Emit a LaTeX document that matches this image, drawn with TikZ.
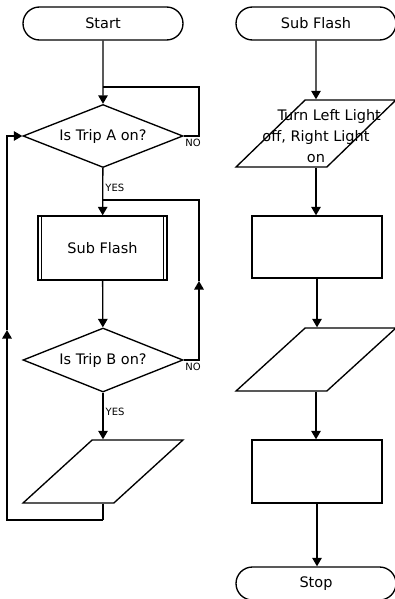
\documentclass[tikz,border=0pt]{standalone}
\usepackage{fontspec}
\setmainfont{DejaVu Sans}
\usetikzlibrary{positioning,shapes,arrows.meta,calc}

\tikzset{
    term/.style={rounded rectangle, draw, minimum width=160pt, minimum height=33pt, inner sep=0pt},
    decide/.style={diamond, draw, aspect=2.5, minimum width=160pt, minimum height=63pt, inner sep=0pt},
    io/.style={trapezium, trapezium left angle=63, trapezium right angle=117, trapezium stretches=true,
        draw, minimum width=160pt, minimum height=63pt, inner sep=2pt, align=center},
    proc/.style={rectangle, draw, minimum width=130pt, minimum height=63pt},
    flow/.style={-{Triangle[width=9.5pt,length=8.5pt]}},
    tag/.style={font=\fontsize{10}{12}\selectfont, inner sep=1pt},
}

\begin{document}
\begin{tikzpicture}[x=1pt, y=-1pt, line width=1.35pt, draw=black,
    font=\fontsize{14.5}{21}\selectfont]
    \useasboundingbox (0,0) rectangle (394,599);

    % main flow
    \node[term] (start) at (103,23.5) {Start};
    \node[decide] (tripA) at (103,136) {Is Trip A on?};
    \node[proc, minimum width=129pt, minimum height=64pt] (flash) at (102.5,248) {Sub Flash};
    \draw ([xshift=4pt]flash.north west) -- ([xshift=4pt]flash.south west);
    \draw ([xshift=-4pt]flash.north east) -- ([xshift=-4pt]flash.south east);
    \node[decide, minimum height=64pt] (tripB) at (103,360) {Is Trip B on?};
    \node[io] (outL) at (103,471.5) {\strut};

    \node[tag, below right=1pt and 0pt of tripA.east] (noA) {NO};
    \node[tag, below right=1pt and 0pt of tripB.east] (noB) {NO};

    \coordinate (loopA) at (199,87);
    \coordinate (joinB) at (199,200);
    \coordinate (tipB) at (199,281);
    \coordinate (backL) at (103,520);
    \coordinate (tipL) at (7,330);

    \draw[flow] (start) -- (tripA);
    \draw (tripA.east) -| (loopA) -- (loopA -| start.south);
    \draw[flow] (tripA) -- (flash) node[tag, pos=0.41, right=1pt] (yesA) {YES};
    \draw[flow] (tripB.east) -| (tipB);
    \draw (tipB) -- (joinB) -- (joinB -| flash.north);
    \draw[flow] (flash) -- (tripB);
    \draw[flow] (tripB) -- (outL) node[tag, pos=0.41, right=1pt] (yesB) {YES};
    \draw (outL.south) -- (backL);
    \draw[flow] (backL) -| (tipL);
    \draw[flow] (tipL) |- (tripA.west);

    % subroutine
    \node[term] (sub) at (316,23.5) {Sub Flash};
    \node[io, minimum height=67pt] (outA) at (316,133.5) {\strut};
    \node[align=center, inner sep=0pt] (outAtext) at ([yshift=-3pt]outA.center)
        {\makebox[105pt][l]{\hspace{14pt}Turn Left Light}\\off, Right Light\\on};
    \node[proc, minimum height=62pt] (procA) at (317,247) {};
    \node[io] (outB) at (316,359.5) {\strut};
    \node[proc] (procB) at (317,471.5) {};
    \node[term] (stop) at (316,583.5) {Stop};

    \draw[flow] (sub) -- (outA);
    \draw[flow] (outA) -- (outA |- procA.north);
    \draw[flow] (procA) -- (procA |- outB.north);
    \draw[flow] (outB) -- (outB |- procB.north);
    \draw[flow] (procB) -- (procB |- stop.north);
\end{tikzpicture}
\end{document}
